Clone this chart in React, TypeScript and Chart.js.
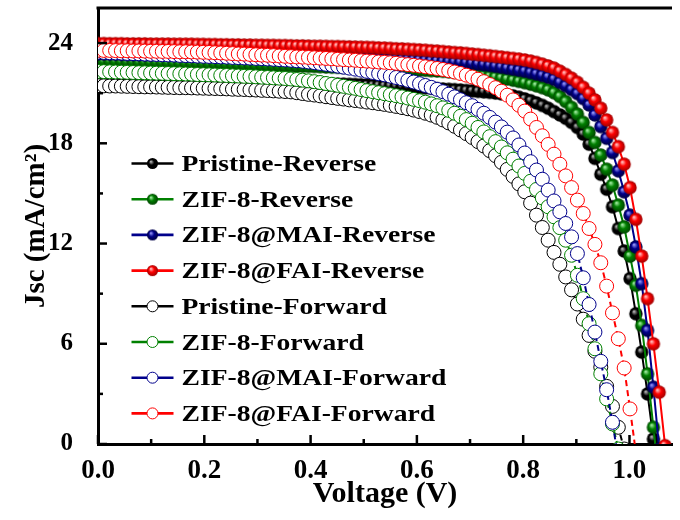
import React, { useEffect, useRef } from "react";
import { Chart, registerables } from "chart.js";

Chart.register(...registerables);

// ---------- data ----------
const voltage = [
  0, 0.011, 0.022, 0.033, 0.044, 0.055, 0.066, 0.077, 0.088, 0.099,
  0.11, 0.121, 0.132, 0.143, 0.154, 0.165, 0.176, 0.187, 0.198, 0.209,
  0.22, 0.231, 0.242, 0.253, 0.264, 0.275, 0.286, 0.297, 0.308, 0.319,
  0.33, 0.341, 0.352, 0.363, 0.374, 0.385, 0.396, 0.407, 0.418, 0.429,
  0.44, 0.451, 0.462, 0.473, 0.484, 0.495, 0.506, 0.517, 0.528, 0.539,
  0.55, 0.561, 0.572, 0.583, 0.594, 0.605, 0.616, 0.627, 0.638, 0.649,
  0.66, 0.671, 0.682, 0.693, 0.704, 0.715, 0.726, 0.737, 0.748, 0.759,
  0.77, 0.781, 0.792, 0.803, 0.814, 0.825, 0.836, 0.847, 0.858, 0.869,
  0.88, 0.891, 0.902, 0.913, 0.924, 0.935, 0.946, 0.957, 0.968, 0.979,
  0.99, 1.001, 1.012, 1.023, 1.034, 1.045, 1.056, 1.067,
];

const pristineReverse = [
  22.2, 22.18, 22.16, 22.13, 22.11, 22.09, 22.07, 22.05, 22.03, 22.0,
  21.98, 21.96, 21.94, 21.92, 21.89, 21.87, 21.85, 21.83, 21.81, 21.8,
  21.79, 21.78, 21.77, 21.75, 21.74, 21.73, 21.72, 21.71, 21.7, 21.68,
  21.67, 21.66, 21.65, 21.64, 21.63, 21.62, 21.61, 21.6, 21.59, 21.57,
  21.56, 21.55, 21.54, 21.53, 21.52, 21.5, 21.49, 21.47, 21.46, 21.44,
  21.43, 21.41, 21.4, 21.38, 21.36, 21.34, 21.32, 21.3, 21.27, 21.25,
  21.23, 21.21, 21.19, 21.16, 21.14, 21.11, 21.08, 21.05, 21.01, 20.96,
  20.9, 20.84, 20.76, 20.66, 20.55, 20.42, 20.27, 20.1, 19.9, 19.7,
  19.5, 19.25, 18.95, 18.55, 17.95, 17.1, 16.15, 15.25, 14.2, 12.9,
  11.55, 9.9, 7.8, 5.5, 3.0, 0.3, -2.5,
];

const zif8Reverse = [
  22.95, 22.94, 22.94, 22.93, 22.92, 22.91, 22.91, 22.9, 22.89, 22.88,
  22.88, 22.87, 22.86, 22.85, 22.84, 22.84, 22.83, 22.82, 22.81, 22.8,
  22.79, 22.78, 22.76, 22.75, 22.74, 22.73, 22.72, 22.71, 22.7, 22.68,
  22.67, 22.66, 22.65, 22.64, 22.63, 22.62, 22.61, 22.6, 22.59, 22.57,
  22.56, 22.55, 22.54, 22.53, 22.52, 22.5, 22.49, 22.48, 22.47, 22.46,
  22.45, 22.44, 22.43, 22.42, 22.41, 22.39, 22.37, 22.35, 22.33, 22.31,
  22.28, 22.25, 22.21, 22.17, 22.13, 22.09, 22.05, 22.01, 21.96, 21.91,
  21.85, 21.78, 21.71, 21.63, 21.54, 21.44, 21.33, 21.2, 21.03, 20.8,
  20.5, 20.15, 19.75, 19.25, 18.65, 18.05, 17.3, 16.45, 15.5, 14.3,
  13.0, 11.25, 9.5, 7.1, 4.2, 1.0, -2.2,
];

const maiReverse = [
  23.35, 23.35, 23.34, 23.34, 23.33, 23.32, 23.32, 23.31, 23.31, 23.3,
  23.3, 23.29, 23.29, 23.28, 23.28, 23.27, 23.26, 23.26, 23.25, 23.24,
  23.24, 23.23, 23.23, 23.22, 23.22, 23.21, 23.21, 23.2, 23.2, 23.19,
  23.19, 23.18, 23.17, 23.17, 23.16, 23.16, 23.15, 23.15, 23.14, 23.14,
  23.13, 23.13, 23.12, 23.12, 23.11, 23.1, 23.09, 23.08, 23.07, 23.06,
  23.05, 23.04, 23.03, 23.02, 23.01, 22.99, 22.97, 22.95, 22.93, 22.91,
  22.89, 22.87, 22.85, 22.82, 22.79, 22.75, 22.71, 22.66, 22.61, 22.56,
  22.5, 22.44, 22.38, 22.32, 22.24, 22.16, 22.07, 21.97, 21.84, 21.65,
  21.45, 21.22, 20.98, 20.68, 20.3, 19.7, 19.0, 18.3, 17.45, 16.35,
  15.1, 13.7, 11.8, 9.6, 6.8, 3.4, -0.3,
];

const faiReverse = [
  23.97, 23.97, 23.96, 23.96, 23.96, 23.95, 23.95, 23.95, 23.95, 23.94,
  23.94, 23.94, 23.94, 23.93, 23.93, 23.93, 23.93, 23.92, 23.92, 23.91,
  23.91, 23.9, 23.9, 23.89, 23.89, 23.88, 23.88, 23.87, 23.87, 23.86,
  23.86, 23.85, 23.85, 23.84, 23.83, 23.83, 23.82, 23.81, 23.81, 23.8,
  23.79, 23.79, 23.78, 23.77, 23.76, 23.75, 23.74, 23.73, 23.71, 23.7,
  23.68, 23.66, 23.65, 23.63, 23.61, 23.59, 23.57, 23.54, 23.52, 23.49,
  23.46, 23.43, 23.41, 23.38, 23.34, 23.31, 23.27, 23.24, 23.2, 23.16,
  23.12, 23.08, 23.04, 22.99, 22.92, 22.84, 22.74, 22.63, 22.5, 22.32,
  22.12, 21.9, 21.65, 21.35, 21.0, 20.6, 20.1, 19.4, 18.65, 17.8,
  16.75, 15.35, 13.45, 11.25, 8.7, 6.0, 3.1, -0.1,
];

const pristineForward = [
  21.45, 21.44, 21.43, 21.43, 21.42, 21.41, 21.4, 21.39, 21.38, 21.38,
  21.37, 21.36, 21.35, 21.34, 21.33, 21.33, 21.32, 21.31, 21.3, 21.29,
  21.28, 21.27, 21.26, 21.24, 21.23, 21.22, 21.2, 21.19, 21.17, 21.16,
  21.14, 21.12, 21.1, 21.08, 21.03, 20.98, 20.93, 20.89, 20.84, 20.79,
  20.74, 20.69, 20.65, 20.6, 20.56, 20.52, 20.47, 20.43, 20.38, 20.33,
  20.27, 20.21, 20.14, 20.07, 19.99, 19.9, 19.8, 19.69, 19.56, 19.4,
  19.22, 19.02, 18.8, 18.58, 18.35, 18.1, 17.84, 17.56, 17.26, 16.86,
  16.44, 16.02, 15.57, 15.1, 14.42, 13.7, 12.96, 12.2, 11.47, 10.76,
  10.0, 9.23, 8.38, 7.47, 6.5, 5.55, 4.6, 3.45, 2.25, 1.0,
  -0.3,
];

const zif8Forward = [
  22.3, 22.29, 22.28, 22.27, 22.26, 22.25, 22.24, 22.23, 22.22, 22.21,
  22.2, 22.19, 22.18, 22.17, 22.16, 22.15, 22.14, 22.12, 22.11, 22.1,
  22.09, 22.07, 22.06, 22.04, 22.03, 22.01, 22.0, 21.98, 21.96, 21.94,
  21.92, 21.9, 21.88, 21.85, 21.82, 21.78, 21.74, 21.69, 21.64, 21.58,
  21.53, 21.47, 21.41, 21.35, 21.29, 21.22, 21.15, 21.09, 21.03, 20.97,
  20.91, 20.85, 20.78, 20.71, 20.63, 20.55, 20.46, 20.36, 20.25, 20.12,
  19.97, 19.8, 19.62, 19.42, 19.2, 18.95, 18.68, 18.4, 18.1, 17.78,
  17.43, 17.05, 16.64, 16.2, 15.73, 15.24, 14.73, 14.2, 13.6, 12.95,
  12.2, 11.3, 10.1, 8.7, 7.2, 5.7, 4.2, 2.7, 1.2, -0.3,
];

const maiForward = [
  23.45, 23.44, 23.42, 23.41, 23.4, 23.38, 23.37, 23.36, 23.34, 23.33,
  23.32, 23.3, 23.29, 23.28, 23.26, 23.25, 23.24, 23.22, 23.21, 23.2,
  23.19, 23.17, 23.16, 23.14, 23.13, 23.11, 23.1, 23.08, 23.07, 23.05,
  23.03, 23.01, 22.99, 22.97, 22.94, 22.91, 22.87, 22.83, 22.78, 22.73,
  22.68, 22.62, 22.56, 22.5, 22.44, 22.38, 22.31, 22.24, 22.17, 22.1,
  22.02, 21.94, 21.86, 21.77, 21.67, 21.57, 21.46, 21.35, 21.23, 21.09,
  20.94, 20.78, 20.61, 20.43, 20.25, 20.03, 19.8, 19.55, 19.27, 18.98,
  18.67, 18.32, 17.9, 17.42, 16.9, 16.4, 15.85, 15.2, 14.55, 13.9,
  13.2, 12.4, 11.4, 9.95, 8.35, 6.7, 4.95, 3.25, 1.3, -0.9,
];

const faiForward = [
  23.57, 23.56, 23.56, 23.55, 23.54, 23.54, 23.53, 23.53, 23.52, 23.51,
  23.51, 23.5, 23.5, 23.49, 23.48, 23.48, 23.47, 23.46, 23.45, 23.44,
  23.42, 23.41, 23.39, 23.37, 23.35, 23.34, 23.32, 23.3, 23.28, 23.27,
  23.25, 23.23, 23.21, 23.19, 23.17, 23.16, 23.14, 23.12, 23.1, 23.08,
  23.06, 23.03, 23.01, 22.99, 22.97, 22.94, 22.92, 22.9, 22.87, 22.85,
  22.82, 22.79, 22.75, 22.71, 22.67, 22.63, 22.58, 22.53, 22.48, 22.42,
  22.35, 22.27, 22.18, 22.08, 21.97, 21.84, 21.69, 21.52, 21.33, 21.12,
  20.88, 20.6, 20.28, 19.93, 19.45, 18.95, 18.45, 17.93, 17.35, 16.75,
  16.05, 15.35, 14.6, 13.8, 12.9, 11.95, 10.85, 9.45, 7.85, 6.3,
  4.55, 2.1, -0.5,
];

const seriesNames = [
  "Pristine-Reverse",
  "ZIF-8-Reverse",
  "ZIF-8@MAI-Reverse",
  "ZIF-8@FAI-Reverse",
  "Pristine-Forward",
  "ZIF-8-Forward",
  "ZIF-8@MAI-Forward",
  "ZIF-8@FAI-Forward",
];
const seriesValues = [
  pristineReverse, zif8Reverse, maiReverse, faiReverse,
  pristineForward, zif8Forward, maiForward, faiForward,
];
const seriesColors = ["#000000", "#008000", "#00008b", "#ff0000", "#000000", "#008000", "#00008b", "#ff0000"];
const sphereLights = ["#b8b8b8", "#a8f0a8", "#9a9aff", "#ffc8c8"];
const sphereDarks = ["#000000", "#004400", "#000040", "#a00000"];

const xTicks = [0, 0.2, 0.4, 0.6, 0.8, 1.0];
const xMinorTicks = [0.1, 0.3, 0.5, 0.7, 0.9];
const yTicks = [0, 6, 12, 18, 24];
const yMinorTicks = [3, 9, 15, 21];

const FONT = '"Liberation Serif", "Times New Roman", serif';

function makeSphere(color: string, light: string, dark: string, r: number): HTMLCanvasElement {
  const size = Math.ceil(r * 2) + 2;
  const c = document.createElement("canvas");
  c.width = size;
  c.height = size;
  const ctx = c.getContext("2d")!;
  const cx = size / 2;
  const cy = size / 2;
  const g = ctx.createRadialGradient(cx - r * 0.3, cy - r * 0.35, r * 0.05, cx, cy, r);
  g.addColorStop(0, light);
  g.addColorStop(0.45, color);
  g.addColorStop(1, dark);
  ctx.fillStyle = g;
  ctx.beginPath();
  ctx.arc(cx, cy, r, 0, Math.PI * 2);
  ctx.fill();
  return c;
}

export default function App() {
  const canvasRef = useRef<HTMLCanvasElement | null>(null);

  useEffect(() => {
    const canvas = canvasRef.current;
    if (!canvas) return;

    const bigSpheres = [0, 1, 2, 3].map((k) => makeSphere(seriesColors[k], sphereLights[k], sphereDarks[k], 6.7));
    const smallSpheres = [0, 1, 2, 3].map((k) => makeSphere(seriesColors[k], sphereLights[k], sphereDarks[k], 5.5));

    const datasets = seriesValues.map((vals, idx) => {
      const forward = idx >= 4;
      const color = seriesColors[idx];
      return {
        label: seriesNames[idx],
        data: vals.map((j, i) => ({ x: voltage[i], y: j })),
        borderColor: color,
        borderWidth: 2,
        borderDash: forward ? [6, 4] : [],
        backgroundColor: color,
        showLine: true,
        fill: false,
        tension: 0,
        order: 8 - idx,
        pointStyle: forward ? "circle" : bigSpheres[idx],
        pointRadius: forward ? 7 : 6.7,
        pointHoverRadius: forward ? 7 : 6.7,
        pointBorderWidth: forward ? 1 : 0,
        pointBorderColor: color,
        pointBackgroundColor: forward ? "#ffffff" : color,
      };
    });

    const decorPlugin = {
      id: "decor",
      afterDraw(chart: any) {
        const { ctx, chartArea } = chart;
        const xs = chart.scales.x;
        const ys = chart.scales.y;
        ctx.save();
        ctx.strokeStyle = "#000";
        ctx.lineCap = "butt";
        // top frame
        ctx.lineWidth = 3;
        ctx.beginPath();
        ctx.moveTo(chartArea.left - 1.5, chartArea.top);
        ctx.lineTo(chartArea.right, chartArea.top);
        ctx.stroke();
        // inward ticks
        ctx.lineWidth = 2.5;
        const b = chartArea.bottom;
        const l = chartArea.left;
        const tick = (x1: number, y1: number, x2: number, y2: number) => {
          ctx.beginPath();
          ctx.moveTo(x1, y1);
          ctx.lineTo(x2, y2);
          ctx.stroke();
        };
        xTicks.forEach((v) => { const p = xs.getPixelForValue(v); tick(p, b, p, b - 9); });
        xMinorTicks.forEach((v) => { const p = xs.getPixelForValue(v); tick(p, b, p, b - 5); });
        yTicks.forEach((v) => { const p = ys.getPixelForValue(v); tick(l, p, l + 9, p); });
        yMinorTicks.forEach((v) => { const p = ys.getPixelForValue(v); tick(l, p, l + 5, p); });

        // legend
        const rowTop = 163.5;
        const rowStep = 35.7;
        const lineX1 = 131.5;
        const lineX2 = 173.5;
        const markX = 152.5;
        const textX = 181.5;
        seriesNames.forEach((name, idx) => {
          const y = rowTop + idx * rowStep;
          const color = seriesColors[idx];
          ctx.setLineDash([]);
          ctx.strokeStyle = color;
          ctx.lineWidth = 2.6;
          tick(lineX1, y, lineX2, y);
          if (idx < 4) {
            const img = smallSpheres[idx];
            ctx.drawImage(img, markX - img.width / 2, y - img.height / 2);
          } else {
            ctx.beginPath();
            ctx.arc(markX, y, 5.5, 0, Math.PI * 2);
            ctx.fillStyle = "#fff";
            ctx.fill();
            ctx.lineWidth = 1;
            ctx.stroke();
          }
          ctx.save();
          ctx.translate(textX, y + 7.5);
          ctx.scale(1.2, 1);
          ctx.fillStyle = "#000";
          ctx.font = `bold 23px ${FONT}`;
          ctx.textAlign = "left";
          ctx.textBaseline = "alphabetic";
          ctx.fillText(name, 0, 0);
          ctx.restore();
        });
        ctx.restore();
      },
    };

    const chart = new Chart(canvas, {
      type: "scatter",
      data: { datasets: datasets as any },
      options: {
        responsive: false,
        animation: false,
        events: [],
        layout: { padding: { top: 7, right: 0, bottom: 0, left: 0 } },
        plugins: {
          legend: { display: false },
          tooltip: { enabled: false },
        },
        scales: {
          x: {
            type: "linear",
            min: 0,
            max: 1.08,
            afterFit: (s: any) => {
              s.height = 76;
              s.paddingLeft = 0;
              s.paddingRight = 0;
            },
            afterBuildTicks: (s: any) => { s.ticks = xTicks.map((v) => ({ value: v })); },
            grid: { display: false },
            border: { display: true, color: "#000", width: 3 },
            ticks: {
              color: "#000",
              padding: 3,
              autoSkip: false,
              maxRotation: 0,
              font: { family: FONT, size: 27, weight: "bold" },
              callback: (v: any) => Number(v).toFixed(1),
            },
            title: {
              display: true,
              text: "Voltage (V)",
              color: "#000",
              font: { family: FONT, size: 30, weight: "bold" },
              padding: { top: 0, bottom: 8 },
            },
          },
          y: {
            type: "linear",
            min: 0,
            max: 26.1,
            afterFit: (s: any) => {
              s.width = 98;
              s.paddingTop = 0;
              s.paddingBottom = 0;
            },
            afterBuildTicks: (s: any) => { s.ticks = yTicks.map((v) => ({ value: v })); },
            grid: { display: false },
            border: { display: true, color: "#000", width: 3 },
            ticks: {
              color: "#000",
              padding: 17,
              autoSkip: false,
              font: { family: FONT, size: 25, weight: "bold" },
              callback: (v: any) => String(v),
            },
            title: {
              display: true,
              text: "Jsc (mA/cm²)",
              color: "#000",
              font: { family: FONT, size: 29, weight: "bold" },
              padding: { top: 19, bottom: 0 },
            },
          },
        },
      } as any,
      plugins: [decorPlugin],
    });

    return () => chart.destroy();
  }, []);

  return (
    <div style={{ position: "fixed", left: 0, top: 0, width: 680, height: 520, background: "#fff" }}>
      <canvas ref={canvasRef} width={680} height={520} style={{ display: "block", width: 680, height: 520 }} />
    </div>
  );
}
